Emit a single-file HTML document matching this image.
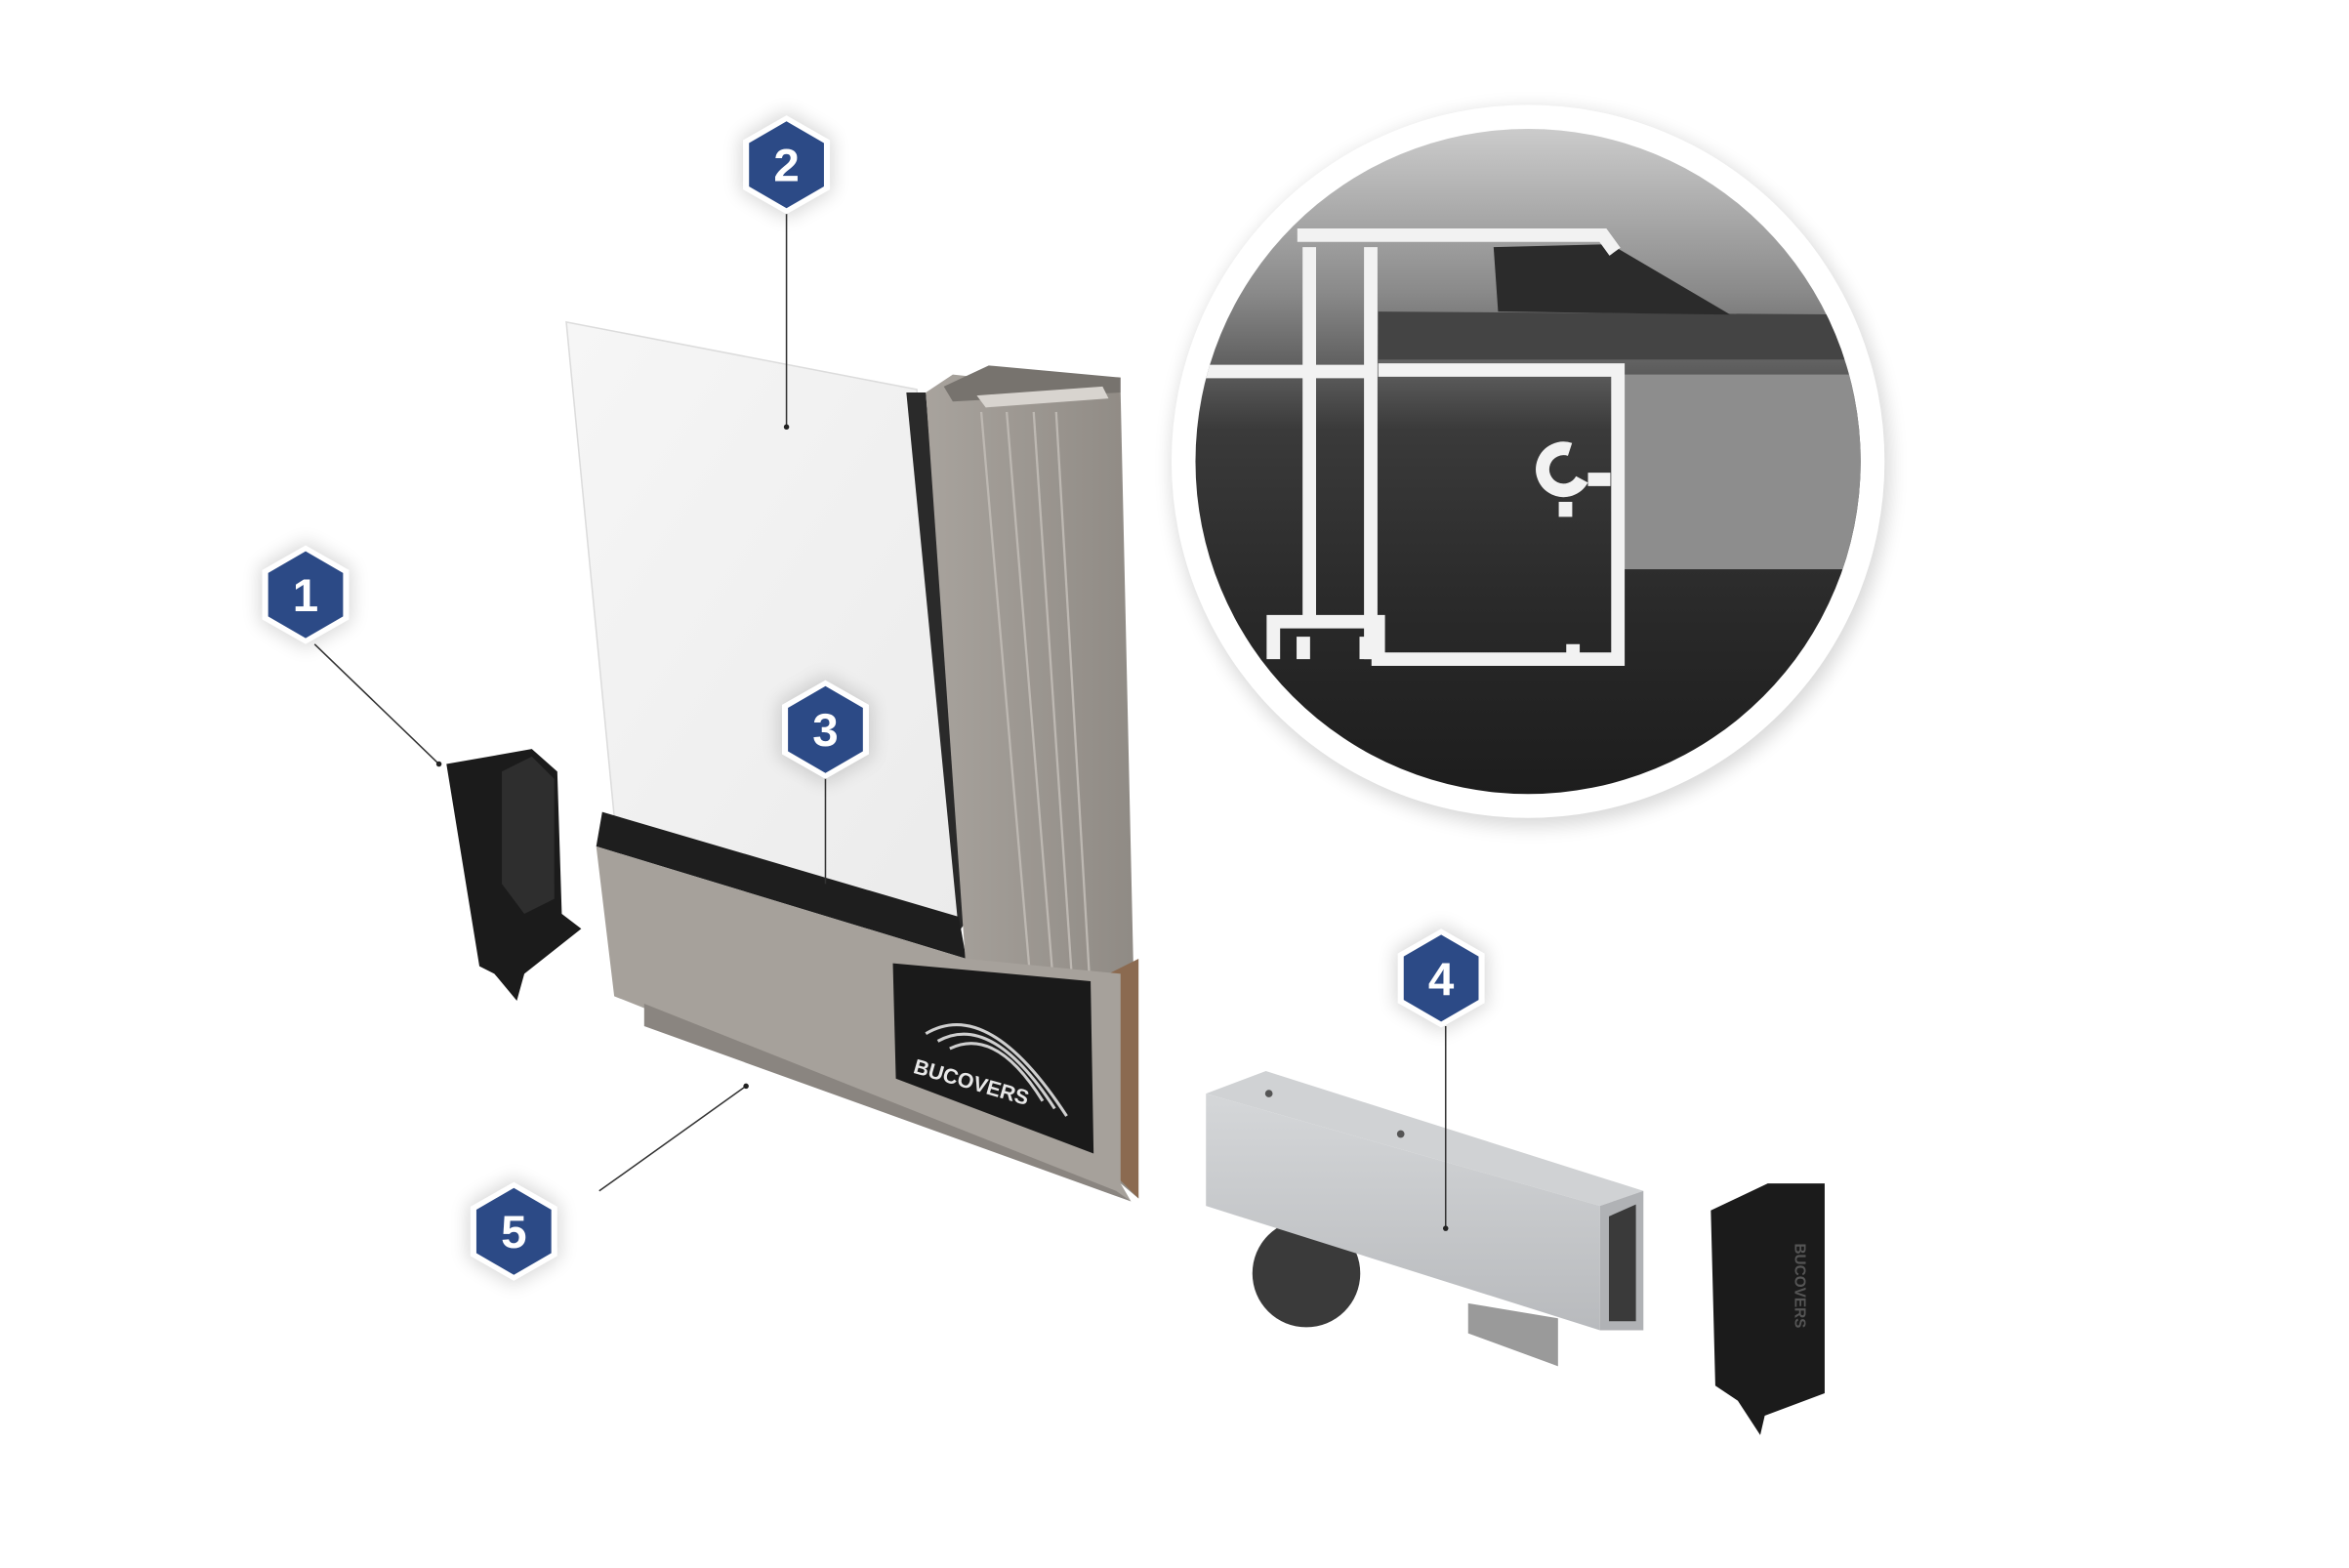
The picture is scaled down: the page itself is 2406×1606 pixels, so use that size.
<!DOCTYPE html>
<html><head><meta charset="utf-8"><style>
html,body{margin:0;padding:0;background:#fff;}
svg{display:block;}
text{font-family:"Liberation Sans",sans-serif;font-weight:bold;}
</style></head><body>
<svg width="2406" height="1606" viewBox="0 0 1568 1046.7" preserveAspectRatio="none" xmlns="http://www.w3.org/2000/svg">
<defs>
<radialGradient id="sh" cx="0.5" cy="0.5" r="0.5"><stop offset="0.85" stop-color="#000" stop-opacity="0.18"/><stop offset="1" stop-color="#000" stop-opacity="0"/></radialGradient>
<linearGradient id="bg" x1="0" y1="0" x2="0" y2="1"><stop offset="0" stop-color="#cfcfcf"/><stop offset="0.25" stop-color="#8a8a8a"/><stop offset="0.45" stop-color="#3a3a3a"/><stop offset="0.7" stop-color="#2a2a2a"/><stop offset="1" stop-color="#1c1c1c"/></linearGradient>
<linearGradient id="gl" x1="0" y1="0" x2="1" y2="1"><stop offset="0" stop-color="#f6f6f6"/><stop offset="1" stop-color="#ebebeb"/></linearGradient>
<linearGradient id="al" x1="0" y1="0" x2="1" y2="0"><stop offset="0" stop-color="#a8a39d"/><stop offset="1" stop-color="#8f8a84"/></linearGradient>
<linearGradient id="tr" x1="0" y1="0" x2="0" y2="1"><stop offset="0" stop-color="#d5d7d9"/><stop offset="1" stop-color="#b8babd"/></linearGradient>
<clipPath id="cc"><circle cx="1020" cy="308" r="222"/></clipPath>
<filter id="ds" x="-30%" y="-30%" width="160%" height="160%"><feGaussianBlur stdDeviation="6"/></filter>
</defs>

<!-- big zoom circle -->
<circle cx="1022" cy="312" r="240" fill="#000" opacity="0.15" filter="url(#ds)"/>
<circle cx="1020" cy="308" r="238" fill="#fff"/>
<g clip-path="url(#cc)">
<rect x="790" y="80" width="460" height="460" fill="url(#bg)"/>
<rect x="1080" y="250" width="180" height="130" fill="#8d8d8d"/>
<polygon points="920,208 1240,210 1240,240 920,240" fill="#444"/>
<polygon points="997,165 1075,163 1155,210 1000,208" fill="#2b2b2b"/>
<g fill="none" stroke="#f2f2f2" stroke-width="9">
<path d="M866,157 L1070,157 L1078,168"/>
<path d="M874,165 L874,415 M915,165 L915,440"/>
<path d="M800,248 L915,248"/>
<path d="M920,247 L1080,247 L1080,440 L920,440 L920,415 L850,415 L850,440 M1050,440 L1050,430"/>
<path d="M870,440 L870,425 M912,440 L912,425"/>
<path d="M1075,320 L1060,320 M1048,300 a14,14 0 1 0 8,20 M1045,335 L1045,345"/>
</g>
</g>

<!-- small circle halo -->
<circle cx="695" cy="256" r="60" fill="none" stroke="#fff" stroke-width="3"/>

<!-- glass -->
<polygon points="378,215 612,260 640,615 410,545" fill="url(#gl)" stroke="#dcdcdc" stroke-width="1"/>
<!-- dark glazing -->
<polygon points="605,262 618,262 645,615 640,622" fill="#2a2a2a"/>
<polygon points="402,542 640,612 645,640 398,565" fill="#1e1e1e"/>
<!-- stile -->
<polygon points="618,262 636,250 748,262 760,800 748,790 645,650" fill="url(#al)"/>
<polygon points="630,258 660,244 748,252 748,262 636,268" fill="#77736e"/>
<polygon points="652,264 658,272 740,266 736,258" fill="#d8d4cf"/>
<g stroke="#bdb8b2" stroke-width="1.5"><line x1="655" y1="275" x2="690" y2="680"/><line x1="672" y1="275" x2="705" y2="680"/><line x1="690" y1="275" x2="718" y2="690"/><line x1="705" y1="275" x2="730" y2="700"/></g>
<polygon points="740,650 760,640 760,800 745,785" fill="#8b6a50"/>
<!-- bottom rail -->
<polygon points="398,565 645,640 748,650 748,790 755,802 410,665" fill="#a6a19b"/>
<polygon points="430,670 745,795 755,802 430,685" fill="#8a8580"/>
<!-- logo -->
<polygon points="596,643 728,655 730,770 598,720" fill="#1a1a1a"/>
<g fill="none" stroke="#cfcfcf" stroke-width="2"><path d="M618,690 Q660,665 712,745"/><path d="M626,695 Q662,675 704,740"/><path d="M634,700 Q665,685 696,735"/></g>
<text x="609" y="716" font-size="14" fill="#e8e8e8" transform="rotate(16 609 716)">BUCOVERS</text>

<!-- left cap -->
<polygon points="298,510 355,500 372,515 375,610 388,620 350,650 345,668 330,650 320,645" fill="#1b1b1b"/>
<polygon points="335,515 355,505 370,520 370,600 350,610 335,590" fill="#2e2e2e"/>

<!-- track 4 -->
<circle cx="872" cy="850" r="36" fill="#3a3a3a"/>
<polygon points="980,870 1040,880 1040,912 980,890" fill="#9a9a9a"/>
<polygon points="805,730 845,715 1097,795 1068,805" fill="#d0d2d4"/>
<polygon points="805,730 1068,805 1068,888 805,805" fill="url(#tr)"/>
<polygon points="1068,805 1097,795 1097,888 1068,888" fill="#b0b2b5"/>
<polygon points="1074,812 1092,804 1092,882 1074,882" fill="#3a3a3a"/>
<circle cx="847" cy="730" r="2.5" fill="#555"/><circle cx="935" cy="757" r="2.5" fill="#555"/>

<!-- right cap -->
<polygon points="1142,808 1180,790 1218,790 1218,930 1178,945 1175,958 1160,935 1145,925" fill="#1b1b1b"/>
<text x="1198" y="830" font-size="10" fill="#555" transform="rotate(90 1198 830)">BUCOVERS</text>

<!-- leader lines -->
<g stroke="#333" stroke-width="1"><line x1="210" y1="430" x2="293" y2="510"/><line x1="525" y1="140" x2="525" y2="285"/><line x1="551" y1="515" x2="551" y2="590"/><line x1="965" y1="685" x2="965" y2="820"/><line x1="400" y1="795" x2="498" y2="725"/></g>
<g fill="#222"><circle cx="293" cy="510" r="1.8"/><circle cx="525" cy="285" r="1.8"/><circle cx="965" cy="820" r="1.8"/><circle cx="498" cy="725" r="1.8"/></g>

<!-- badges -->
<g id="badges">
<g transform="translate(204,397)"><polygon points="0,-36 31,-18 31,18 0,36 -31,18 -31,-18" fill="#000" opacity="0.15" filter="url(#ds)"/><polygon points="0,-33 29,-16.5 29,16.5 0,33 -29,16.5 -29,-16.5" fill="#fff"/><polygon points="0,-29 25,-14.5 25,14.5 0,29 -25,14.5 -25,-14.5" fill="#2c4a86"/><text x="0" y="11" font-size="31" fill="#fff" text-anchor="middle">1</text></g>
<g transform="translate(525,110)"><polygon points="0,-36 31,-18 31,18 0,36 -31,18 -31,-18" fill="#000" opacity="0.15" filter="url(#ds)"/><polygon points="0,-33 29,-16.5 29,16.5 0,33 -29,16.5 -29,-16.5" fill="#fff"/><polygon points="0,-29 25,-14.5 25,14.5 0,29 -25,14.5 -25,-14.5" fill="#2c4a86"/><text x="0" y="11" font-size="31" fill="#fff" text-anchor="middle">2</text></g>
<g transform="translate(551,487)"><polygon points="0,-36 31,-18 31,18 0,36 -31,18 -31,-18" fill="#000" opacity="0.15" filter="url(#ds)"/><polygon points="0,-33 29,-16.5 29,16.5 0,33 -29,16.5 -29,-16.5" fill="#fff"/><polygon points="0,-29 25,-14.5 25,14.5 0,29 -25,14.5 -25,-14.5" fill="#2c4a86"/><text x="0" y="11" font-size="31" fill="#fff" text-anchor="middle">3</text></g>
<g transform="translate(962,653)"><polygon points="0,-36 31,-18 31,18 0,36 -31,18 -31,-18" fill="#000" opacity="0.15" filter="url(#ds)"/><polygon points="0,-33 29,-16.5 29,16.5 0,33 -29,16.5 -29,-16.5" fill="#fff"/><polygon points="0,-29 25,-14.5 25,14.5 0,29 -25,14.5 -25,-14.5" fill="#2c4a86"/><text x="0" y="11" font-size="31" fill="#fff" text-anchor="middle">4</text></g>
<g transform="translate(343,822)"><polygon points="0,-36 31,-18 31,18 0,36 -31,18 -31,-18" fill="#000" opacity="0.15" filter="url(#ds)"/><polygon points="0,-33 29,-16.5 29,16.5 0,33 -29,16.5 -29,-16.5" fill="#fff"/><polygon points="0,-29 25,-14.5 25,14.5 0,29 -25,14.5 -25,-14.5" fill="#2c4a86"/><text x="0" y="11" font-size="31" fill="#fff" text-anchor="middle">5</text></g>
</g>
</svg>
</body></html>
